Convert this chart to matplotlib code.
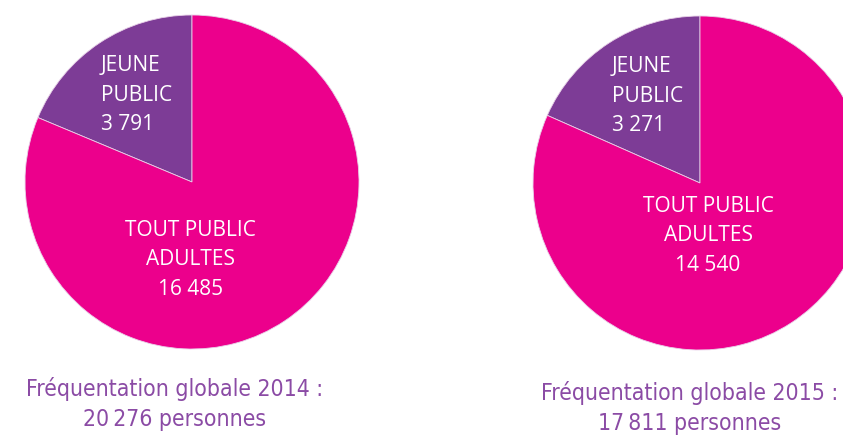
import matplotlib
matplotlib.use("Agg")
import matplotlib.pyplot as plt

# data
years = ["2014", "2015"]
totals = ["20\u2009276", "17\u2009811"]
jeune = [3791, 3271]
adultes = [16485, 14540]
jeune_txt = ["3 791", "3 271"]
adultes_txt = ["16 485", "14 540"]

pink = "#EC008C"
purple = "#7D3C96"
title_col = "#8B4BA5"

W, H = 843, 436
fig = plt.figure(figsize=(W / 100, H / 100), dpi=100)

# pie centres / radius in pixels
centres = [(192, 182), (700, 183)]
R = 167
# label anchors inside each pie (axes data units)
jeune_pos = [(-0.545, 0.52), (-0.527, 0.52)]
adultes_pos = [(-0.01, -0.467), (0.048, -0.317)]
title_pos = [(175, 404), (690, 408)]

for i in range(2):
    cx, cy = centres[i]
    ax = fig.add_axes([(cx - R) / W, (H - cy - R) / H, 2 * R / W, 2 * R / H])
    ax.pie([jeune[i], adultes[i]], colors=[purple, pink], startangle=90,
           counterclock=True, radius=1,
           wedgeprops=dict(edgecolor="#e8d0e8", linewidth=0.6))
    ax.set_xlim(-1, 1)
    ax.set_ylim(-1, 1)
    ax.set_aspect("equal")
    ax.axis("off")

    # labels inside the slices
    jx, jy = jeune_pos[i]
    ax.text(jx, jy, "JEUNE\nPUBLIC\n" + jeune_txt[i], color="white",
            fontsize=15, family="Open Sans", ha="left", va="center",
            linespacing=1.52)
    axx, axy = adultes_pos[i]
    ax.text(axx, axy, "TOUT PUBLIC\nADULTES\n" + adultes_txt[i], color="white",
            fontsize=15, family="Open Sans", ha="center", va="center",
            linespacing=1.52, multialignment="center")

    # caption under each pie
    tx, ty = title_pos[i]
    fig.text(tx / W, 1 - ty / H,
             "Fréquentation globale " + years[i] + " :\n" + totals[i] + " personnes",
             color=title_col, fontsize=16.5, family="DejaVu Sans", fontstretch="condensed",
             ha="center", va="center", linespacing=1.36, multialignment="center")

fig.savefig("out.png", dpi=100)
